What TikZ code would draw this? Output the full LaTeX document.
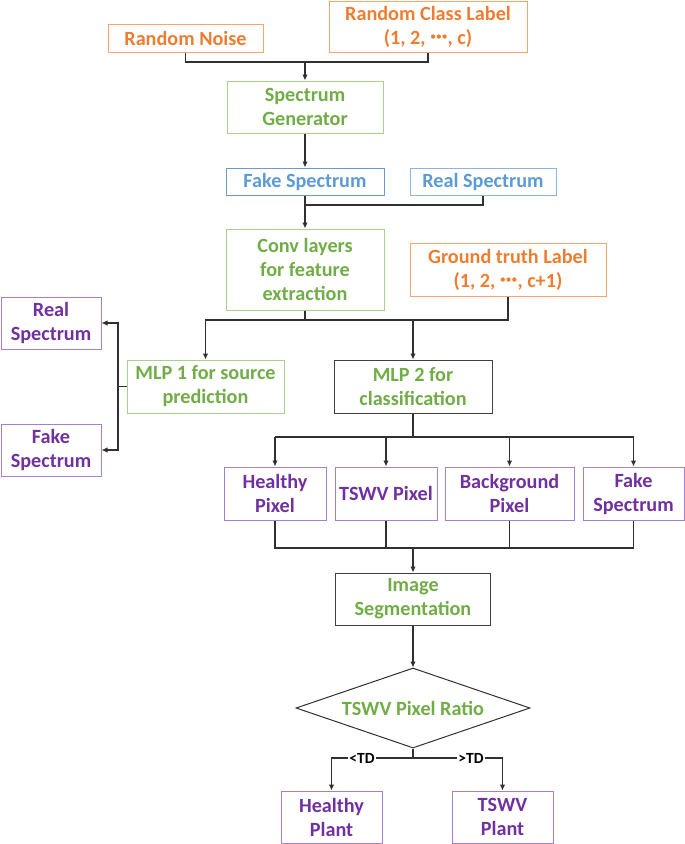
\documentclass[tikz,border=0pt]{standalone}
\usepackage{fontspec}
\setmainfont{Carlito}
\usetikzlibrary{arrows.meta,shapes.geometric}
\definecolor{orgT}{HTML}{ED7D31}
\definecolor{orgB}{HTML}{F5A66F}
\definecolor{grnT}{HTML}{70AD47}
\definecolor{grnB}{HTML}{A9D18E}
\definecolor{bluT}{HTML}{5B9BD5}
\definecolor{bluB}{HTML}{6D9BC9}
\definecolor{bluB2}{HTML}{8FB4DC}
\definecolor{purT}{HTML}{7030A0}
\definecolor{purB}{HTML}{A67FD0}
\definecolor{drk}{HTML}{404040}
\definecolor{lnc}{HTML}{303030}
\newcommand{\dotsm}{\raisebox{0.05em}{\fontsize{23}{23}\selectfont ·\kern-0.02em·\kern-0.02em·}}
\begin{document}
\begin{tikzpicture}[x=1pt,y=-1pt,
  bx/.style={draw, line width=1pt, align=center, inner sep=0pt,
    font=\bfseries\fontsize{20.2}{24}\selectfont},
  orgbox/.style={bx, draw=orgB, text=orgT},
  grnbox/.style={bx, draw=grnB, text=grnT},
  drkbox/.style={bx, draw=drk, text=grnT},
  blubox/.style={bx, draw=bluB, text=bluT},
  purbox/.style={bx, draw=purB, text=purT},
  ln/.style={draw=lnc, line width=1.1pt},
  arr/.style={ln, -{Latex[length=6pt,width=5.5pt]}},
  lbl/.style={fill=white, inner sep=1pt, font=\bfseries\fontsize{15.5}{17}\selectfont, text=black}
]
\useasboundingbox (0,0) rectangle (685,844);

% nodes
\node[orgbox, minimum width=155, minimum height=28] (noise) at (185.5,38) {Random Noise};
\node[orgbox, minimum width=198, minimum height=51] (classlbl) at (428,26.5) {Random Class Label\\(1, 2, \dotsm, c)};
\node[grnbox, minimum width=156, minimum height=52] (gen) at (305,107) {Spectrum\\Generator};
\node[blubox, minimum width=158, minimum height=27] (fake) at (305,181.5) {Fake Spectrum};
\node[bx, draw=bluB2, text=bluT, minimum width=146, minimum height=27] (real) at (483,181.5) {Real Spectrum};
\node[grnbox, minimum width=158, minimum height=81] (conv) at (305,269.5) {Conv layers\\for feature\\extraction};
\node[orgbox, minimum width=196, minimum height=53] (gt) at (508,269.5) {Ground truth Label\\(1, 2, \dotsm, c+1)};
\node[grnbox, minimum width=157, minimum height=53] (mlp1) at (205.5,386.5) {MLP 1 for source\\prediction};
\node[drkbox, minimum width=158, minimum height=53] (mlp2) at (413,386.5) {MLP 2 for\\classification};
\node[purbox, minimum width=100, minimum height=52] (realP) at (51,323) {Real\\Spectrum};
\node[purbox, minimum width=100, minimum height=52] (fakeP) at (51,450) {Fake\\Spectrum};
\node[purbox, minimum width=102, minimum height=53] (hp) at (275,493.5) {Healthy\\Pixel};
\node[purbox, minimum width=102, minimum height=53] (tp) at (386,493.5) {TSWV Pixel};
\node[purbox, minimum width=129, minimum height=53] (bp) at (509.5,493.5) {Background\\Pixel};
\node[purbox, minimum width=101, minimum height=53] (fs) at (633.5,493.5) {Fake\\Spectrum};
\node[drkbox, minimum width=155, minimum height=52] (seg) at (413,599) {Image\\Segmentation};
\node[diamond, draw=lnc, line width=1pt, inner sep=0pt, aspect=2.9, minimum width=234, minimum height=80,
  text=grnT, font=\bfseries\fontsize{20.2}{24}\selectfont] (dia) at (413,708) {TSWV Pixel Ratio};
\node[purbox, minimum width=101, minimum height=52] (hpl) at (331.5,817) {Healthy\\Plant};
\node[purbox, minimum width=101, minimum height=52] (tpl) at (502.5,817) {TSWV\\Plant};

% junctions
\coordinate (j1) at (305,62);
\coordinate (j2) at (305,205);
\coordinate (j3) at (305,320);
\coordinate (j4) at (118,386.5);
\coordinate (j5) at (413,437);
\coordinate (j6) at (413,548);
\coordinate (j7) at (413,758);

% connectors
\draw[ln] (noise.south) |- (j1) -| (classlbl.south);
\draw[arr] (j1) -- (gen.north);
\draw[arr] (gen.south) -- (fake.north);
\draw[ln] (real.south) |- (j2);
\draw[arr] (fake.south) -- (conv.north);
\draw[ln] (conv.south) -- (j3);
\draw[ln] (gt.south) |- (j3);
\draw[arr] (j3) -| (mlp1.north);
\draw[arr] (mlp2.north |- j3) -- (mlp2.north);
\draw[ln] (mlp1.west) -- (j4);
\draw[arr] (j4) |- (realP.east);
\draw[arr] (j4) |- (fakeP.east);
\draw[ln] (mlp2.south) -- (j5);
\draw[ln] (hp.north |- j5) -- (fs.north |- j5);
\draw[arr] (hp.north |- j5) -- (hp.north);
\draw[arr] (tp.north |- j5) -- (tp.north);
\draw[arr] (bp.north |- j5) -- (bp.north);
\draw[arr] (fs.north |- j5) -- (fs.north);
\draw[ln] (hp.south) |- (j6);
\draw[ln] (fs.south) |- (j6);
\draw[ln] (tp.south) -- (tp.south |- j6);
\draw[ln] (bp.south) -- (bp.south |- j6);
\draw[arr] (j6) -- (seg.north);
\draw[arr] (seg.south) -- (dia.north);
\draw[ln] (dia.south) -- (j7);
\draw[arr] (j7) -| (hpl.north);
\draw[arr] (j7) -| (tpl.north);
\node[lbl] (ltd) at (362,758) {<TD};
\node[lbl] (gtd) at (471,758) {>TD};
\end{tikzpicture}
\end{document}
